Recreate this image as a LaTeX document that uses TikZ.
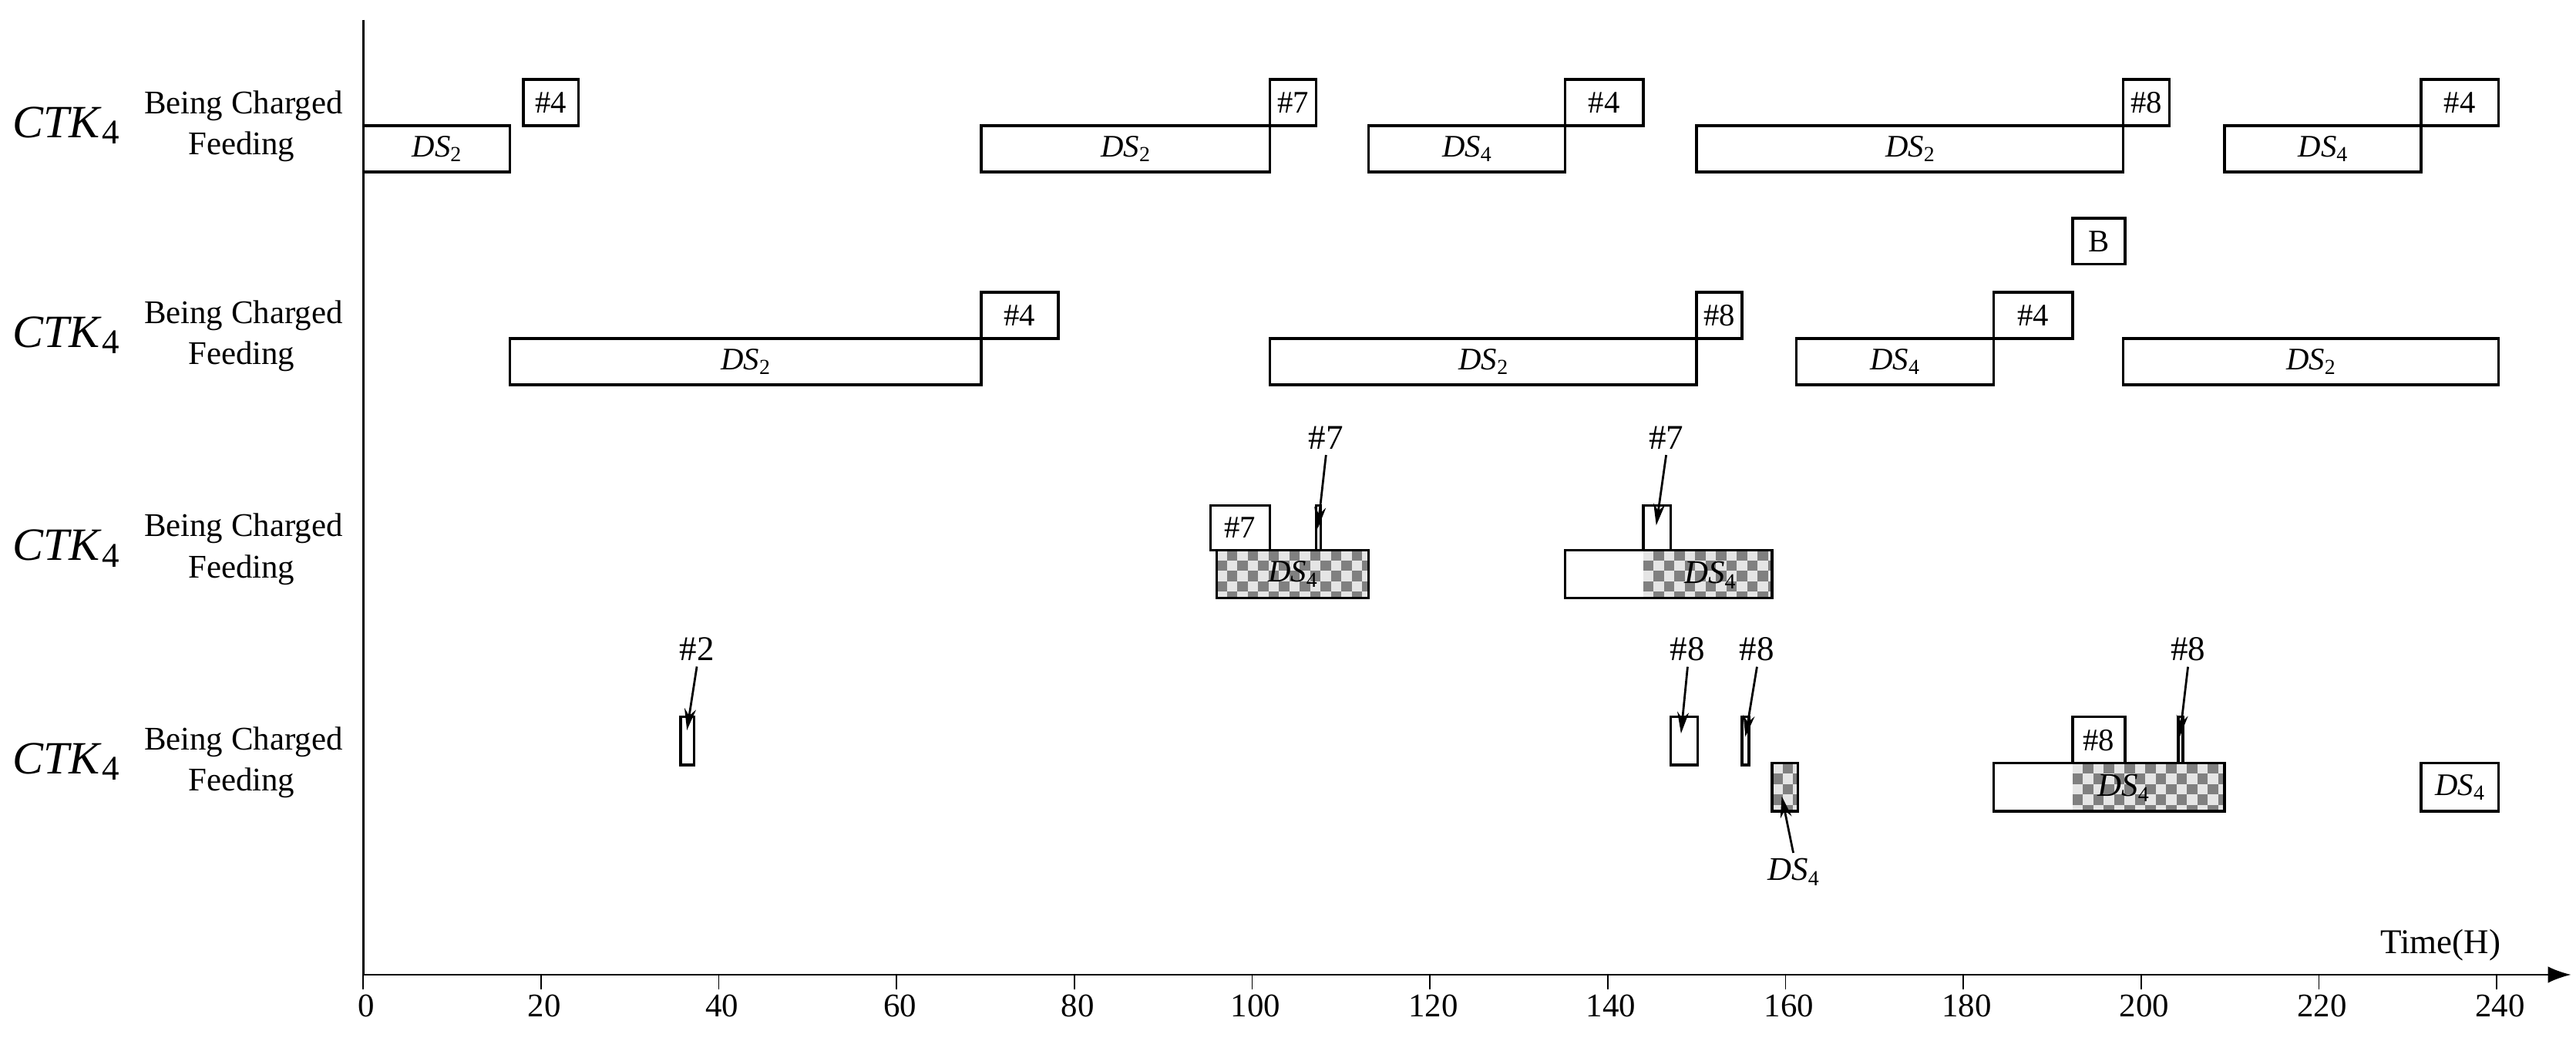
\documentclass[tikz,border=0pt]{standalone}
\usepackage{fontspec}
\setmainfont{Liberation Serif}
\usetikzlibrary{arrows.meta}
\newcommand\ds[1]{\textit{DS}\raisebox{-0.35ex}{\fontsize{13}{13}\selectfont #1}}
\newcommand\ctk{{\fontsize{28}{28}\selectfont\textit{CTK}\raisebox{-0.3ex}{\fontsize{21}{21}\selectfont 4}}}
\tikzset{
 bx/.style={draw,line width=1.6pt,inner sep=0pt,outer sep=0pt,font=\fontsize{19}{19}\selectfont},
 nb/.style={font=\fontsize{21}{21}\selectfont},
 lbl/.style={font=\fontsize{20}{20}\selectfont,align=center},
 arr/.style={line width=1.3pt,-{Stealth[length=13pt,width=7pt]}}
}
% name, t1, t2, ytop, ybot, label
\newcommand\tb[6]{\node[bx,minimum width={(#3-#2)*5.383pt},minimum height={(#5-#4)*1pt}] (#1) at ({220+(#2+#3)/2*5.383},{(#4+#5)/2}) {#6};}
\newcommand\chk[4]{\begin{scope}\clip ({220+#1*5.383},#3) rectangle ({220+#2*5.383},#4);
 \fill[black!10] ({220+#1*5.383},#3) rectangle ({220+#2*5.383},#4);
 \foreach \i in {0,...,30}{\foreach \j in {0,...,5}{\pgfmathtruncatemacro\m{mod(\i+\j,2)}\ifnum\m=1
 \fill[black!50] ({220+#1*5.383+\i*6.3},{#3+\j*6.3}) rectangle ++(6.3,6.3);\fi}}
 \end{scope}}
\begin{document}
\begin{tikzpicture}[x=1pt,y=-1pt]
\useasboundingbox (0,0) rectangle (1560,640.4);
% axes
\draw[line width=1.2pt] (220,12) -- (220,590);
\draw[line width=1.2pt,-{Latex[length=14pt,width=10pt]}] (220,590) -- (1557,590);
\foreach \t in {0,20,...,240}{\draw[line width=0.8pt] ({220+\t*5.383},590) -- ({220+\t*5.383},599);
 \node[lbl] at ({222+\t*5.383},609) {\t};}
\node[lbl,font=\fontsize{21}{21}\selectfont] (time) at (1478,572) {Time(H)};
% row labels
\foreach \r/\y in {1/76,2/203,3/332,4/461}{
 \node (c\r) at (40,\y) {\ctk};
 \node[lbl,anchor=east] (bc\r) at (211,{\y-12}) {Being Charged};
 \node[lbl,anchor=east] (fd\r) at (182,{\y+13}) {Feeding};}
% row 1
\tb{a1}{0}{16.5}{76}{104}{\ds2}
\tb{a2}{18}{24.2}{48}{76}{\#4}
\tb{a3}{69.5}{102}{76}{104}{\ds2}
\tb{a4}{102}{107.2}{48}{76}{\#7}
\tb{a5}{113.1}{135.2}{76}{104}{\ds4}
\tb{a6}{135.2}{144}{48}{76}{\#4}
\tb{a7}{150}{198}{76}{104}{\ds2}
\tb{a8}{198}{203.2}{48}{76}{\#8}
\tb{a9}{209.4}{231.5}{76}{104}{\ds4}
\tb{a10}{231.5}{240.2}{48}{76}{\#4}
\tb{bb}{192.3}{198.2}{132}{160}{B}
% row 2
\tb{b1}{16.5}{69.5}{205}{233}{\ds2}
\tb{b2}{69.5}{78.2}{177}{205}{\#4}
\tb{b3}{102}{150}{205}{233}{\ds2}
\tb{b4}{150}{155.1}{177}{205}{\#8}
\tb{b5}{161.2}{183.4}{205}{233}{\ds4}
\tb{b6}{183.4}{192.3}{177}{205}{\#4}
\tb{b7}{198}{240.2}{205}{233}{\ds2}
% row 3
\tb{c1}{95.3}{102}{306}{333}{\#7}
\chk{96}{113.1}{333}{362}
\tb{c2}{96}{113.1}{333}{362}{\ds4}
\tb{c3}{107.2}{107.7}{306}{333}{}
\chk{144}{158.5}{333}{362}
\node[bx,minimum width={(158.5-135.2)*5.383pt},minimum height=29pt] (c4) at ({220+(135.2+158.5)/2*5.383},347.5) {};
\node[lbl] at ({220+151.5*5.383},348) {\ds4};
\tb{c5}{144}{147.1}{306}{333}{}
\node[nb] (l1) at (803,265) {\#7};
\node[nb] (l2) at (1009,265) {\#7};
\draw[arr] (l1.south) -- (798,320);
\draw[arr] (l2.south) -- (1003,318);
% row 4
\tb{d1}{35.7}{37.2}{434}{463}{}
\tb{d2}{147.1}{150.1}{434}{463}{}
\tb{d3}{155.1}{155.9}{434}{463}{}
\chk{158.5}{161.4}{462}{491}
\tb{d4}{158.5}{161.4}{462}{491}{}
\chk{192.3}{209.4}{462}{491}
\node[bx,minimum width={(209.4-183.4)*5.383pt},minimum height=29pt] (d5) at ({220+(183.4+209.4)/2*5.383},476.5) {};
\node[lbl] at ({220+198*5.383},477) {\ds4};
\tb{d6}{192.3}{198.2}{434}{462}{\#8}
\tb{d7}{204.2}{204.7}{434}{462}{}
\tb{d8}{231.5}{240.2}{462}{491}{\ds4}
\node[nb] (m1) at (422,393) {\#2};
\node[nb] (m2) at (1022,393) {\#8};
\node[nb] (m3) at (1064,393) {\#8};
\node[nb] (m4) at (1325,393) {\#8};
\node[lbl] (m5) at (1086,528) {\ds4};
\draw[arr] (m1.south) -- (416,442);
\draw[arr] (m2.south) -- (1018,444);
\draw[arr] (m3.south) -- (1057,446);
\draw[arr] (m4.south) -- (1320,446);
\draw[arr] (m5.north) -- (1079,482);
\end{tikzpicture}
\end{document}
